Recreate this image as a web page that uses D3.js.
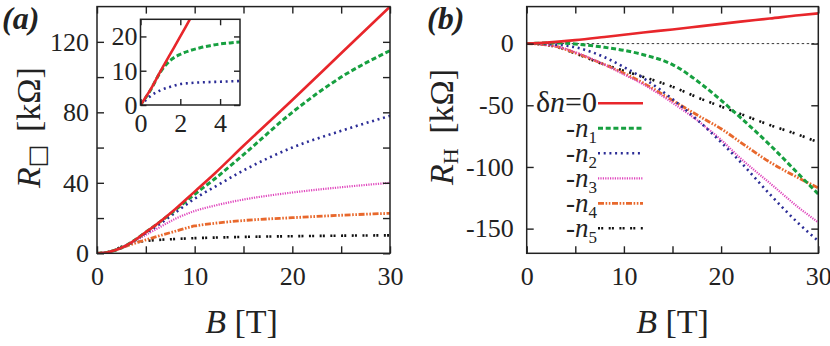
<!DOCTYPE html>
<html>
<head>
<meta charset="utf-8">
<script src="https://cdn.jsdelivr.net/npm/d3@7"></script>
<style>
  body { margin: 0; background: #fff; }
</style>
</head>
<body>
<div id="wrapper"></div>
<script>
// panel (a): sheet resistance vs B
const bA = [0, 1, 2, 3, 4, 5, 6, 8, 10, 12, 15, 20, 25, 30];
const rA0 = [0, 0.5, 2, 4.5, 8, 12, 16, 25, 35, 45, 61, 87, 113.5, 140];
const rA1 = [0, 0.5, 2, 4.5, 8, 12, 16, 24.5, 33.5, 42, 56, 80, 100, 115];
const rA2 = [0, 0.5, 2, 4.5, 7.8, 11.5, 15, 23, 31, 37.5, 47, 60, 69.5, 78];
const rA3 = [0, 0.5, 2, 4.3, 7.3, 10.5, 13.5, 19.5, 24, 27, 30.5, 34.5, 37.5, 40];
const rA4 = [0, 0.5, 2, 4, 6, 7.6, 9.3, 12.5, 15.5, 17, 18.6, 20.2, 21.6, 22.7];
const rA5 = [0, 0.4, 2.5, 4.8, 6.2, 7, 7.5, 8.1, 8.6, 8.9, 9.3, 9.7, 10, 10.2];

// inset of (a): low field
const bIn = [0, 0.5, 1, 1.5, 2, 2.5, 3, 3.5, 4, 4.5, 5];
const rIn0 = [0, 4.5, 9.8, 14.9, 20, 25.2, 30.3, 35.4, 40.5, 45.6, 50.7];
const rIn1 = [0, 4.3, 9.6, 13, 14.8, 15.9, 16.7, 17.3, 17.8, 18.1, 18.4];
const rIn2 = [0, 2.6, 4.3, 5.3, 6.1, 6.4, 6.6, 6.7, 6.8, 6.9, 7.0];

// panel (b): Hall resistance vs B
const bB = [0, 2, 3, 5, 8, 10, 12, 15, 18, 20, 22, 25, 28, 30];
const rB0 = [0, 0.8, 1.4, 2.8, 5.4, 7.2, 9, 11.5, 14.2, 16, 17.8, 20.3, 23, 24.5];
const rB1 = [0, 0.5, 0.6, -0.3, -3, -5.5, -9, -17, -33, -46, -60, -82, -106, -122];
const rB2 = [0, -0.3, -0.8, -3, -11, -19, -28, -45, -65, -80, -96, -122, -146, -160];
const rB3 = [0, -1, -2.2, -7, -17, -25, -33, -48, -65, -78, -93, -113, -133, -145];
const rB4 = [0, -1, -2.3, -7.5, -17, -24, -32, -46, -60, -69, -80, -96, -109, -117];
const rB5 = [0, -1, -2.5, -8, -17, -22, -27, -35, -45, -51, -57, -66, -74, -80];

const legendSubs = ["", "1", "2", "3", "4", "5"];

const xTicksMain = [0, 10, 20, 30];
const xTicksMinor = [5, 15, 25];
const yTicksA = [0, 40, 80, 120];
const yTicksAMinor = [20, 60, 100];
const yTicksB = [0, -50, -100, -150];
const xTicksIn = [0, 2, 4];
const yTicksIn = [0, 10, 20];

const seriesStyle = [
  {color: "#e8262b", width: 2.6, dash: null},
  {color: "#17a040", width: 3, dash: "5,2.7"},
  {color: "#2b2c96", width: 2.6, dash: "2,3.7"},
  {color: "#e046bd", width: 2.2, dash: "1.2,1.2"},
  {color: "#e8682c", width: 2.8, dash: "6,1.6,1.6,1.6,1.6,1.6"},
  {color: "#111111", width: 2.6, dash: "2,1.2,2,5.5"}
];

// one quoted family, set on every text element itself
const SERIF = "'Liberation Serif'";

const svg = d3.select("#wrapper").append("svg")
  .attr("width", 830).attr("height", 346);

function serif(sel, size) {
  return sel.style("font-family", SERIF).style("font-size", size + "px").attr("fill", "#222");
}

function tickFmt(labels) {
  return d => labels.includes(d) ? String(d) : "";
}

function frame(g, x, y, opts) {
  const [x0, x1] = x.range();
  const [y0, y1] = y.range();
  const xAll = opts.xTicks.concat(opts.xMinor || []);
  const yAll = opts.yTicks.concat(opts.yMinor || []);
  const t = opts.tick;
  const bottom = g.append("g").attr("transform", `translate(0,${y0})`)
    .call(d3.axisBottom(x).tickValues(xAll).tickSize(-t).tickPadding(opts.xPad).tickFormat(tickFmt(opts.xTicks)));
  const top = g.append("g").attr("transform", `translate(0,${y1})`)
    .call(d3.axisTop(x).tickValues(xAll).tickSize(-t).tickFormat(""));
  const left = g.append("g").attr("transform", `translate(${x0},0)`)
    .call(d3.axisLeft(y).tickValues(yAll).tickSize(-t).tickPadding(opts.yPad).tickFormat(tickFmt(opts.yTicks)));
  const right = g.append("g").attr("transform", `translate(${x1},0)`)
    .call(d3.axisRight(y).tickValues(yAll).tickSize(-t).tickFormat(""));
  [bottom, top, left, right].forEach(a => {
    a.select(".domain").remove();
    a.selectAll(".tick line").attr("stroke", "#222").attr("stroke-width", 1.4);
    serif(a.selectAll("text"), opts.fs);
  });
  g.append("rect").attr("x", x0).attr("y", y1)
    .attr("width", x1 - x0).attr("height", y0 - y1)
    .attr("fill", "none").attr("stroke", "#222").attr("stroke-width", 1.5);
}

function drawSeries(g, x, y, xs, ys, style, clipId) {
  const pts = xs.map((b, i) => [b, ys[i]]);
  const line = d3.line().x(d => x(d[0])).y(d => y(d[1])).curve(d3.curveMonotoneX);
  const p = g.append("path").datum(pts)
    .attr("d", line)
    .attr("fill", "none")
    .attr("stroke", style.color)
    .attr("stroke-width", style.width)
    .attr("clip-path", `url(#${clipId})`);
  if (style.dash) p.attr("stroke-dasharray", style.dash);
}

function addClip(id, x, y) {
  const [x0, x1] = x.range();
  const [y0, y1] = y.range();
  svg.append("clipPath").attr("id", id).append("rect")
    .attr("x", x0).attr("y", y1).attr("width", x1 - x0).attr("height", y0 - y1);
}

// ---------- panel (a)
const xA = d3.scaleLinear().domain([0, 30]).range([97, 390]);
const yA = d3.scaleLinear().domain([0, 140]).range([253.3, 6.6]);
addClip("clipA", xA, yA);
const gA = svg.append("g");
[rA5, rA4, rA3, rA2, rA1, rA0].forEach((r, i) => drawSeries(gA, xA, yA, bA, r, seriesStyle[5 - i], "clipA"));
frame(gA, xA, yA, {xTicks: xTicksMain, xMinor: xTicksMinor, yTicks: yTicksA, yMinor: yTicksAMinor,
  tick: 7, xPad: 13, yPad: 8, fs: 26});

// inset
const xI = d3.scaleLinear().domain([0, 5]).range([140.5, 240]);
const yI = d3.scaleLinear().domain([0, 25]).range([105, 19.3]);
addClip("clipI", xI, yI);
const gI = svg.append("g");
gI.append("rect").attr("x", 140.5).attr("y", 19.3).attr("width", 99.5).attr("height", 85.7).attr("fill", "#fff");
[rIn2, rIn1, rIn0].forEach((r, i) => drawSeries(gI, xI, yI, bIn, r, seriesStyle[2 - i], "clipI"));
frame(gI, xI, yI, {xTicks: xTicksIn, yTicks: yTicksIn, tick: 6, xPad: 9, yPad: 3, fs: 26});

// ---------- panel (b)
const xB = d3.scaleLinear().domain([0, 30]).range([526.7, 818.3]);
const yB = d3.scaleLinear().domain([-170, 30]).range([253.3, 6.6]);
addClip("clipB", xB, yB);
const gB = svg.append("g");
gB.append("line").attr("x1", xB(0)).attr("x2", xB(30)).attr("y1", yB(0)).attr("y2", yB(0))
  .attr("stroke", "#222").attr("stroke-width", 0.9).attr("stroke-dasharray", "2.5,2.5");
[rB5, rB4, rB3, rB2, rB1, rB0].forEach((r, i) => drawSeries(gB, xB, yB, bB, r, seriesStyle[5 - i], "clipB"));
frame(gB, xB, yB, {xTicks: xTicksMain, xMinor: xTicksMinor, yTicks: yTicksB, tick: 7, xPad: 13, yPad: 13, fs: 26});

// legend in (b)
const legY = d3.scalePoint().domain(d3.range(6)).range([103.3, 228.3]);
const leg = svg.append("g");
seriesStyle.forEach((s, i) => {
  const yy = legY(i);
  const l = leg.append("line").attr("x1", 598).attr("x2", 643).attr("y1", yy).attr("y2", yy)
    .attr("stroke", s.color).attr("stroke-width", s.width);
  if (s.dash) l.attr("stroke-dasharray", s.dash);
  const t = serif(leg.append("text"), i === 0 ? 30 : 27)
    .attr("x", 597).attr("y", yy + 9).attr("text-anchor", "end");
  if (i === 0) {
    t.append("tspan").text("δ");
    t.append("tspan").style("font-style", "italic").text("n");
    t.append("tspan").text("=0");
  } else {
    t.append("tspan").text("-");
    t.append("tspan").style("font-style", "italic").text("n");
    t.append("tspan").style("font-size", "17px").attr("dy", 6).text(legendSubs[i]);
  }
});

// axis titles
function xTitle(cx) {
  const t = serif(svg.append("text"), 34).attr("x", cx).attr("y", 333).attr("text-anchor", "middle");
  t.append("tspan").style("font-style", "italic").text("B");
  t.append("tspan").text(" [T]");
}
xTitle(241.5);
xTitle(672.5);

function yTitle(x, y, sub, subFont, subSize, subDy, gap) {
  const t = serif(svg.append("text"), 34).attr("transform", `translate(${x},${y}) rotate(-90)`);
  t.append("tspan").style("font-style", "italic").text("R");
  t.append("tspan").style("font-size", subSize + "px").style("font-family", subFont).attr("dy", subDy).text(sub);
  t.append("tspan").attr("dy", -subDy).attr("dx", gap).text(" [kΩ]");
}
yTitle(40, 188, "□", "'DejaVu Sans'", 24, 5, 4);
yTitle(453, 185, "H", SERIF, 22, 5, 6);

// panel labels
serif(svg.append("text"), 32).attr("x", 2).attr("y", 29)
  .style("font-weight", "bold").style("font-style", "italic").text("(a)");
serif(svg.append("text"), 32).attr("x", 427).attr("y", 29)
  .style("font-weight", "bold").style("font-style", "italic").text("(b)");
</script>
</body>
</html>
